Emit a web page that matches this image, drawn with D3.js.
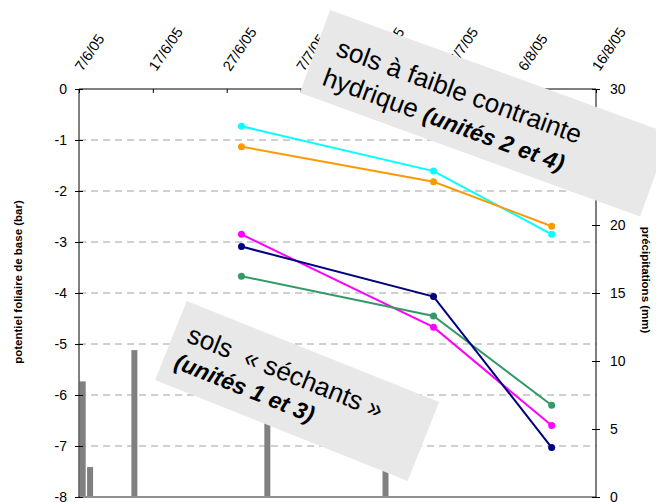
<!DOCTYPE html>
<html>
<head>
<meta charset="utf-8">
<script src="https://cdn.jsdelivr.net/npm/d3@7/dist/d3.min.js"></script>
<style>
  body { margin: 0; background: #fff; }
  svg { display: block; font-family: "Liberation Sans", Arial, sans-serif; }
</style>
</head>
<body>
<svg id="chart" width="656" height="502"></svg>
<script>
// ---- data ----
const tickDates = ["2005-06-07","2005-06-17","2005-06-27","2005-07-07","2005-07-17","2005-07-27","2005-08-06","2005-08-16"];
const tickLabels = ["7/6/05","17/6/05","27/6/05","7/7/05","17/7/05","27/7/05","6/8/05","16/8/05"];
const measureDates = ["2005-06-29","2005-07-25","2005-08-10"];
const cyanVals    = [-0.73, -1.61, -2.85];
const orangeVals  = [-1.13, -1.82, -2.69];
const magentaVals = [-2.85, -4.67, -6.60];
const navyVals    = [-3.09, -4.07, -7.03];
const greenVals   = [-3.67, -4.45, -6.20];
const rainDates = ["2005-06-07","2005-06-08","2005-06-14","2005-07-02","2005-07-18"];
const rainVals  = [8.5, 2.2, 10.8, 8.0, 4.0];
const leftTicks = [0, -1, -2, -3, -4, -5, -6, -7, -8];
const rightTicks = [0, 5, 10, 15, 20, 25, 30];

const series = [
  {vals: cyanVals, color: "#00FFFF"},
  {vals: orangeVals, color: "#FF9900"},
  {vals: magentaVals, color: "#FF00FF"},
  {vals: greenVals, color: "#339966"},
  {vals: navyVals, color: "#000080"}
];

const parse = s => new Date(s + "T00:00:00Z");
const DAY = 86400000;

const svg = d3.select("#chart");
const L = 79, R = 596, T = 89, B = 497;

const x = d3.scaleUtc().domain([parse(tickDates[0]), parse(tickDates[tickDates.length-1])]).range([L, R]);
const yL = d3.scaleLinear().domain([-8, 0]).range([B, T]);
const yR = d3.scaleLinear().domain([0, 30]).range([B, T]);

// gridlines
svg.append("g").selectAll("line").data(leftTicks.filter(v => v < 0 && v > -8)).join("line")
  .attr("x1", L).attr("x2", R).attr("y1", d => yL(d)).attr("y2", d => yL(d))
  .attr("stroke", "#a0a0a0").attr("stroke-width", 1).attr("stroke-dasharray", "7,5");

// bars
svg.append("g").selectAll("rect").data(rainDates.map((d, i) => ({d: parse(d), v: rainVals[i]}))).join("rect")
  .attr("x", d => (x(d.d) + x(new Date(+d.d + DAY))) / 2 - 3)
  .attr("width", 6)
  .attr("y", d => yR(d.v))
  .attr("height", d => yR(0) - yR(d.v))
  .attr("fill", "#808080");

// bottom line
svg.append("line").attr("x1", L).attr("x2", R).attr("y1", B).attr("y2", B)
  .attr("stroke", "#909090").attr("stroke-width", 2);

// axes
const leftAxis = d3.axisLeft(yL).tickValues(leftTicks).tickSize(4).tickPadding(8).tickFormat(d => String(d));
const gl = svg.append("g").attr("transform", `translate(${L},0)`).call(leftAxis);
gl.selectAll(".tick line").attr("x2", 4).attr("x1", -4);
const rightAxis = d3.axisRight(yR).tickValues(rightTicks).tickSize(4).tickPadding(10);
const gr = svg.append("g").attr("transform", `translate(${R},0)`).call(rightAxis);
gr.selectAll(".tick line").attr("x1", -4).attr("x2", 4);
const topAxis = d3.axisTop(x).tickValues(tickDates.map(parse)).tickSize(-4).tickFormat((d, i) => tickLabels[i]);
const gt = svg.append("g").attr("transform", `translate(0,${T})`).call(topAxis);
[gl, gr, gt].forEach(g => {
  g.select(".domain").attr("stroke", "#000").attr("stroke-width", 1);
  g.selectAll(".tick line").attr("stroke", "#000");
  g.selectAll("text").attr("fill", "#000").style("font-family", "Liberation Sans, Arial, sans-serif").style("font-size", "14px");
});
gl.select(".domain").attr("d", `M0,${T}V${B}`);
gr.select(".domain").attr("d", `M0,${T}V${B}`);
gt.select(".domain").attr("d", `M${L},0H${R}`);
gt.selectAll("text")
  .attr("y", 0).attr("dy", 0)
  .attr("text-anchor", "start")
  .style("font-size", "14.5px")
  .attr("transform", "translate(3,-17) rotate(-56)");

// axis titles
svg.append("text").attr("transform", `translate(22,282) rotate(-90)`)
  .attr("text-anchor", "middle").attr("font-weight", "bold").attr("font-size", "11.5px")
  .text("potentiel foliaire de base (bar)");
svg.append("text").attr("transform", `translate(642,280) rotate(90)`)
  .attr("text-anchor", "middle").attr("font-weight", "bold").attr("font-size", "11.5px")
  .text("précipitations (mm)");

// lines
const line = d3.line().x((v, i) => x(parse(measureDates[i]))).y(v => yL(v));
series.forEach(s => {
  svg.append("path").attr("d", line(s.vals)).attr("fill", "none").attr("stroke", s.color).attr("stroke-width", 2);
  svg.append("g").selectAll("circle").data(s.vals).join("circle")
    .attr("cx", (v, i) => x(parse(measureDates[i]))).attr("cy", v => yL(v)).attr("r", 3.5).attr("fill", s.color);
});

// annotation boxes
function box(tx, ty, ang, w, h, lines) {
  const g = svg.append("g").attr("transform", `translate(${tx},${ty}) rotate(${ang})`);
  g.append("rect").attr("width", w).attr("height", h).attr("fill", "#e8e8e8");
  lines.forEach(l => {
    const t = g.append("text").attr("x", l.x).attr("y", l.y).attr("fill", "#000");
    l.parts.forEach(p => t.append("tspan")
      .attr("font-weight", p.b ? "bold" : "normal")
      .attr("font-style", p.b ? "italic" : "normal")
      .attr("font-size", p.s + "px").text(p.t));
  });
}
box(330, 10, 20, 362, 88, [
  {x: 20, y: 41, parts: [{t: "sols à faible contrainte", s: 26}]},
  {x: 17, y: 73, parts: [{t: "hydrique\u00a0", s: 26}, {t: "(unités 2 et 4)", s: 23, b: true}]}
]);
box(186.7, 301, 21.8, 272, 85, [
  {x: 14, y: 38, parts: [{t: "sols\u00a0\u00a0« séchants »", s: 26}]},
  {x: 12, y: 67, parts: [{t: "(unités 1 et 3)", s: 23, b: true}]}
]);
</script>
</body>
</html>
